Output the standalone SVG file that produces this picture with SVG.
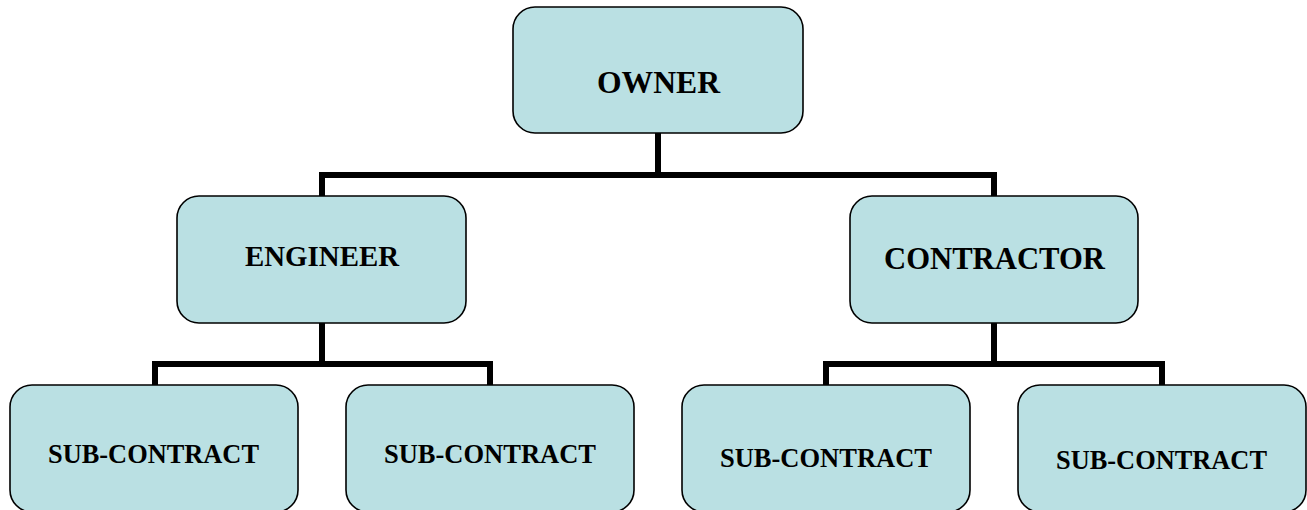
<svg xmlns="http://www.w3.org/2000/svg" width="1307" height="510" viewBox="0 0 1307 510">
<style>
.box{fill:#BAE0E3;stroke:#000;stroke-width:1.6}
.lbl{font-family:"Liberation Serif","Times New Roman",serif;font-weight:bold;fill:#000;text-anchor:middle}
.sub{font-size:27px}
.conn{fill:none;stroke:#000;stroke-width:6;stroke-linejoin:miter;stroke-linecap:butt}
</style>
<rect width="1307" height="510" fill="#fff"/>
<g id="connectors">
<path class="conn" d="M658 133 V175 M322 197 V175 H994 V197"/>
<path class="conn" d="M322 323 V364 M155 386 V364 H490 V386"/>
<path class="conn" d="M994 323 V364 M826 386 V364 H1162 V386"/>
</g>
<g id="owner">
<rect class="box" x="513" y="7" width="290" height="126" rx="22"/>
<text class="lbl" x="658.5" y="93" font-size="32" textLength="123" lengthAdjust="spacingAndGlyphs">OWNER</text>
</g>
<g id="engineer">
<rect class="box" x="177" y="196" width="289" height="127" rx="22"/>
<text class="lbl" x="322" y="266" font-size="30" textLength="154" lengthAdjust="spacingAndGlyphs">ENGINEER</text>
</g>
<g id="contractor">
<rect class="box" x="850" y="196" width="288" height="127" rx="22"/>
<text class="lbl" x="994.5" y="269" font-size="31.5" textLength="221" lengthAdjust="spacingAndGlyphs">CONTRACTOR</text>
</g>
<g id="sub1">
<rect class="box" x="10" y="385" width="288" height="127" rx="22"/>
<text class="lbl sub" x="153.5" y="463" textLength="211" lengthAdjust="spacingAndGlyphs">SUB-CONTRACT</text>
</g>
<g id="sub2">
<rect class="box" x="346" y="385" width="288" height="127" rx="22"/>
<text class="lbl sub" x="490" y="463" textLength="212" lengthAdjust="spacingAndGlyphs">SUB-CONTRACT</text>
</g>
<g id="sub3">
<rect class="box" x="682" y="385" width="288" height="127" rx="22"/>
<text class="lbl sub" x="826" y="467" textLength="212" lengthAdjust="spacingAndGlyphs">SUB-CONTRACT</text>
</g>
<g id="sub4">
<rect class="box" x="1018" y="385" width="288" height="127" rx="22"/>
<text class="lbl sub" x="1161.5" y="469" textLength="211" lengthAdjust="spacingAndGlyphs">SUB-CONTRACT</text>
</g>
</svg>
